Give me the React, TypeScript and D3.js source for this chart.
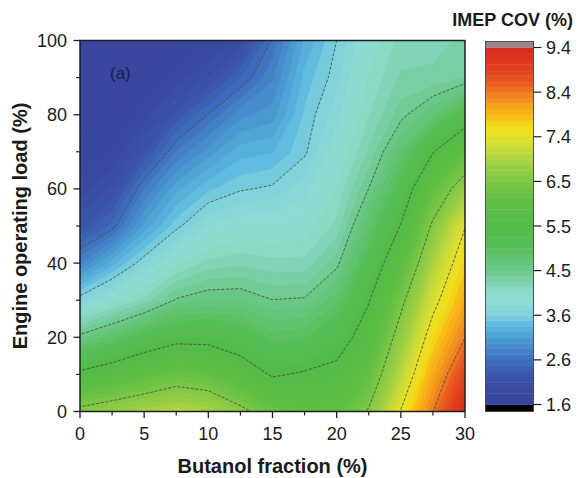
import React, { useMemo } from 'react';
import * as d3 from 'd3';

// grid
const butanol = [0, 2.5, 5, 7.5, 10, 12.5, 15, 17.5, 20, 22.5, 25, 27.5, 30];
const load = [0, 10, 20, 30, 40, 50, 60, 70, 80, 90, 100];
// IMEP COV (%), one row per load (0 -> 100), one column per butanol fraction
const cov = [
  [6.6, 6.75, 6.9, 7.05, 6.95, 6.6, 6.2, 6.0, 6.0, 6.52, 7.47, 8.42, 9.35],
  [5.6, 5.8, 6.0, 6.2, 6.1, 5.8, 5.45, 5.55, 5.65, 6.1, 7.05, 8.05, 8.9],
  [4.6, 4.85, 5.15, 5.35, 5.35, 5.2, 4.95, 5.0, 5.25, 5.75, 6.7, 7.68, 8.42],
  [3.65, 3.95, 4.2, 4.55, 4.65, 4.65, 4.53, 4.55, 4.85, 5.47, 6.35, 7.3, 8.05],
  [2.8, 3.25, 3.65, 4.0, 4.2, 4.25, 4.2, 4.2, 4.47, 5.15, 5.9, 6.95, 7.75],
  [2.2, 2.5, 3.1, 3.5, 3.8, 3.9, 3.9, 3.95, 4.2, 4.85, 5.52, 6.55, 7.43],
  [1.9, 2.1, 2.7, 3.15, 3.4, 3.53, 3.58, 3.75, 4.05, 4.53, 5.15, 6.1, 6.75],
  [1.75, 1.85, 2.2, 2.7, 3.0, 3.25, 3.3, 3.52, 3.9, 4.3, 4.8, 5.48, 6.05],
  [1.7, 1.7, 1.9, 2.25, 2.58, 2.9, 3.0, 3.45, 3.75, 4.15, 4.47, 4.75, 5.2],
  [1.65, 1.65, 1.7, 1.9, 2.1, 2.45, 2.8, 3.35, 3.62, 4.05, 4.3, 4.3, 4.4],
  [1.6, 1.6, 1.65, 1.7, 1.8, 2.0, 2.6, 3.2, 3.55, 3.95, 4.2, 4.25, 4.3],
];

// colour bar levels and labels
const barMin = 1.6;
const barMax = 9.4;
const barLabels = ['1.6', '2.6', '3.6', '4.5', '5.5', '6.5', '7.4', '8.4', '9.4'];
const xTicks = [0, 5, 10, 15, 20, 25, 30];
const xMinor = [2.5, 7.5, 12.5, 17.5, 22.5, 27.5];
const yTicks = [0, 20, 40, 60, 80, 100];
const yMinor = [10, 30, 50, 70, 90];

// colour map stops (value -> colour)
const stopVals = [1.6, 1.91, 2.23, 2.58, 3.0, 3.33, 3.54, 3.87, 4.09, 4.53, 5.07, 5.49, 6.06, 6.43, 6.82, 7.15, 7.43, 7.7, 7.85, 8.13, 8.42, 8.57, 8.9, 9.4];
const stopCols = ['#3a46a0', '#3a489f', '#3b55aa', '#3e6fbd', '#4a98d0', '#5cb8e0', '#7dd0dc', '#8edcd2', '#8ad9c6', '#6cc98c', '#56be56', '#52bc47', '#5fbf45', '#7ac745', '#9ccf45', '#c4d93c', '#e4e02c', '#f2dc1a', '#f8c116', '#f6a21c', '#ef7c22', '#ea6320', '#e0431f', '#d52a1f'];

const FONT = 'Liberation Sans, Arial, Helvetica, sans-serif';

export default function App() {
  const W = 580, H = 478;
  const left = 80, right = 465, top = 40.5, bottom = 411.5;
  const x = d3.scaleLinear().domain([0, 30]).range([left, right]);
  const y = d3.scaleLinear().domain([0, 100]).range([bottom, top]);

  const color = d3.scaleLinear<string>().domain(stopVals).range(stopCols).interpolate(d3.interpolateRgb).clamp(true);

  const step = (barMax - barMin) / 8;
  const barVals = barLabels.map((_, i) => barMin + i * step);
  const fine = step / 8;
  const fillLevels = d3.range(64).map((k) => barMin + k * fine);
  const lineLevels = barVals.slice(1, 8);

  const { fills, lines, path } = useMemo(() => {
    const nx = butanol.length, ny = load.length;
    const values = cov.flat();
    const dx = butanol[1] - butanol[0];
    const dy = load[1] - load[0];
    const proj = d3.geoTransform({
      point: function (px: number, py: number) {
        this.stream.point(x(butanol[0] + (px - 0.5) * dx), y(load[0] + (py - 0.5) * dy));
      },
    });
    const path = d3.geoPath(proj);
    const fills = d3.contours().size([nx, ny]).thresholds(fillLevels)(values);
    const lines = d3.contours().size([nx, ny]).thresholds(lineLevels)(values);
    return { fills, lines, path };
  }, []);

  const cbLeft = 485.5, cbW = 48;
  const cb = d3.scaleLinear().domain([barMin, barMax]).range([404.5, 47.5]);

  return (
    <svg width={W} height={H} style={{ position: 'absolute', left: 0, top: 0, background: '#fff' }} fontFamily={FONT}>
      <defs>
        <clipPath id="plotClip">
          <rect x={left} y={top} width={right - left} height={bottom - top} />
        </clipPath>
      </defs>

      <g clipPath="url(#plotClip)">
        <rect x={left} y={top} width={right - left} height={bottom - top} fill={color(barMin + fine / 2)} />
        {fills.map((c, i) => (
          <path key={i} d={path(c as any) || ''} fill={color(c.value + fine / 2)} stroke={color(c.value + fine / 2)} strokeWidth={0.4} />
        ))}
        {lines.map((c, i) => (
          <path key={i} d={path(c as any) || ''} fill="none" stroke="#4d4d4d" strokeWidth={1} strokeDasharray="3 1.6" strokeOpacity={0.85} />
        ))}
      </g>

      <rect x={left} y={top} width={right - left} height={bottom - top} fill="none" stroke="#1e1e1e" strokeWidth={1.5} />

      <text x={110} y={79} fontSize={17} fill="#1b1f4a">(a)</text>

      {/* x axis */}
      {xTicks.map((t) => (
        <g key={t}>
          <line x1={x(t)} x2={x(t)} y1={bottom} y2={bottom + 6.5} stroke="#1e1e1e" strokeWidth={1.3} />
          <text x={x(t)} y={440} fontSize={18} textAnchor="middle" fill="#1a1a1a">{t}</text>
        </g>
      ))}
      {xMinor.map((t) => (
        <line key={t} x1={x(t)} x2={x(t)} y1={bottom} y2={bottom + 4} stroke="#1e1e1e" strokeWidth={1.2} />
      ))}
      <text x={(left + right) / 2} y={473} fontSize={20} fontWeight="bold" textAnchor="middle" fill="#1a1a1a">Butanol fraction (%)</text>

      {/* y axis */}
      {yTicks.map((t) => (
        <g key={t}>
          <line x1={left - 6.5} x2={left} y1={y(t)} y2={y(t)} stroke="#1e1e1e" strokeWidth={1.3} />
          <text x={67} y={y(t) + 6.5} fontSize={18} textAnchor="end" fill="#1a1a1a">{t}</text>
        </g>
      ))}
      {yMinor.map((t) => (
        <line key={t} x1={left - 4} x2={left} y1={y(t)} y2={y(t)} stroke="#1e1e1e" strokeWidth={1.2} />
      ))}
      <text transform={`translate(27,${(top + bottom) / 2}) rotate(-90)`} fontSize={20} fontWeight="bold" textAnchor="middle" fill="#1a1a1a">Engine operating load (%)</text>

      {/* colour bar */}
      <rect x={cbLeft} y={41.5} width={cbW} height={cb(barMax) - 41.5} fill="#8c8c8c" />
      <rect x={cbLeft} y={cb(barMin)} width={cbW} height={411.5 - cb(barMin)} fill="#000" />
      {fillLevels.map((v, i) => (
        <rect key={i} x={cbLeft} y={cb(v + fine)} width={cbW} height={cb(v) - cb(v + fine) + 0.4} fill={color(v + fine / 2)} />
      ))}
      <rect x={cbLeft} y={41.5} width={cbW} height={411.5 - 41.5} fill="none" stroke="#333" strokeWidth={0.8} />
      {barVals.map((v, i) => (
        <g key={i}>
          <line x1={cbLeft + cbW} x2={cbLeft + cbW + 8} y1={cb(v)} y2={cb(v)} stroke="#1e1e1e" strokeWidth={1.2} />
          <text x={546} y={cb(v) + 6.5} fontSize={18} fill="#1a1a1a">{barLabels[i]}</text>
        </g>
      ))}
      <text x={573} y={26} fontSize={18} fontWeight="bold" textAnchor="end" fill="#1a1a1a">IMEP COV (%)</text>
    </svg>
  );
}
